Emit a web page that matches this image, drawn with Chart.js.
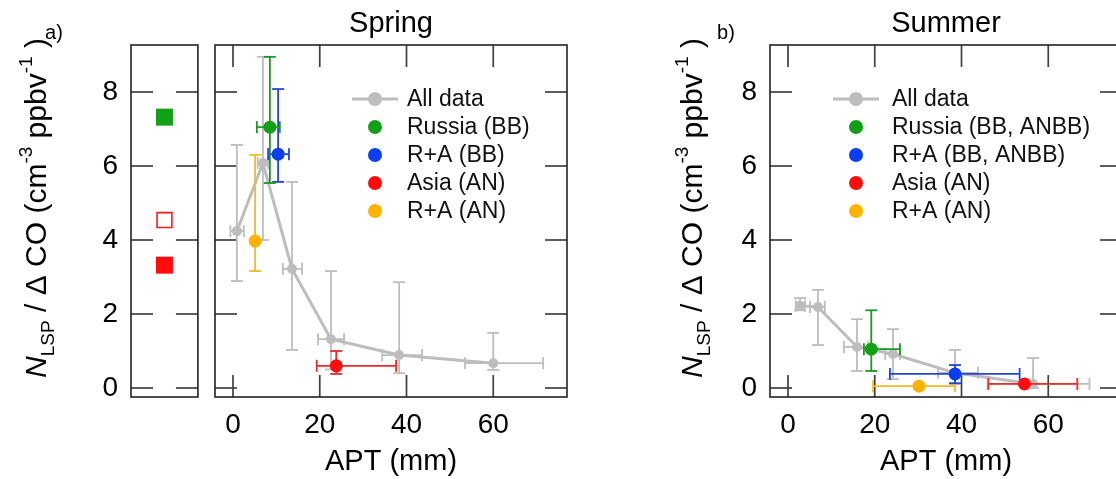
<!DOCTYPE html>
<html>
<head>
<meta charset="utf-8">
<script src="https://cdn.jsdelivr.net/npm/chart.js@4.4.1/dist/chart.umd.min.js"></script>
<style>
  html, body { margin: 0; padding: 0; background: #fff; }
  #wrap { position: relative; width: 1116px; height: 479px; overflow: hidden; }
  canvas { position: absolute; top: 0; }
</style>
</head>
<body>
<div id="wrap">
  <canvas id="side" width="210" height="479" style="left:0px"></canvas>
  <canvas id="spring" width="380" height="479" style="left:200px"></canvas>
  <canvas id="summer" width="520" height="479" style="left:640px"></canvas>
</div>
<script>
const FONT = "'Liberation Sans', Arial, sans-serif";

// axes
const xTicks = [0, 20, 40, 60];
const yTicks = [0, 2, 4, 6, 8];
const xRange = [-4.15, 77];
const yRange = [-0.243, 9.27];

const pointLabelsSpring = ['Russia (BB)', 'R+A (BB)', 'Asia (AN)', 'R+A (AN)'];
const pointLabelsSummer = ['Russia (BB, ANBB)', 'R+A (BB, ANBB)', 'Asia (AN)', 'R+A (AN)'];

// Spring, all data
const springAllApt = [0.9, 6.9, 13.6, 22.6, 38.3, 60.0];
const springAllRatio = [4.24, 6.08, 3.22, 1.32, 0.89, 0.67];
const springAllXLow = [-0.6, 5.7, 11.5, 19.6, 34.4, 53.5];
const springAllXHigh = [2.5, 8.1, 15.9, 25.6, 43.6, 71.5];
const springAllYLow = [2.89, 4.0, 1.03, 0.5, 0.4, 0.49];
const springAllYHigh = [6.57, 8.95, 5.57, 3.16, 2.86, 1.49];

// Spring, source regions (Russia BB, R+A BB, Asia AN, R+A AN)
const springPointApt = [8.5, 10.4, 23.8, 5.1];
const springPointRatio = [7.05, 6.32, 0.6, 3.97];
const springPointXLow = [5.5, 8.1, 19.3, 5.1];
const springPointXHigh = [10.8, 12.9, 37.6, 5.1];
const springPointYLow = [5.54, 5.57, 0.38, 3.16];
const springPointYHigh = [8.95, 8.08, 1.0, 6.3];

// side box squares (green filled, red open, red filled)
const sideRatio = [7.32, 4.54, 3.32];

// Summer, all data
const summerAllApt = [2.8, 6.9, 15.9, 24.2, 38.5, 56.5];
const summerAllRatio = [2.22, 2.19, 1.11, 0.92, 0.41, 0.11];
const summerAllXLow = [1.8, 5.1, 12.9, 22.4, 34.6, 46.0];
const summerAllXHigh = [3.9, 8.5, 18.5, 25.8, 43.8, 69.5];
const summerAllYLow = [2.1, 1.16, 0.46, 0.24, 0.1, 0.0];
const summerAllYHigh = [2.43, 2.65, 1.86, 1.59, 1.03, 0.81];

// Summer, source regions
const summerPointApt = [19.2, 38.5, 54.5, 30.2];
const summerPointRatio = [1.05, 0.38, 0.11, 0.05];
const summerPointXLow = [17.5, 23.5, 46.2, 19.6];
const summerPointXHigh = [25.8, 53.4, 66.7, 38.5];
const summerPointYLow = [0.46, 0.13, 0.11, 0.05];
const summerPointYHigh = [2.1, 0.62, 0.11, 0.05];

const pointColors = ['#12a016', '#0b3df2', '#ff0d0d', '#ffb300'];
const barColors = ['#1a9a22', '#2546d4', '#ee2a2a', '#f7b928'];
const gray = '#bdbdbd';

Chart.defaults.font.family = FONT;
Chart.defaults.color = '#000';

function line(ctx, x1, y1, x2, y2) {
  ctx.beginPath(); ctx.moveTo(x1, y1); ctx.lineTo(x2, y2); ctx.stroke();
}

const framePlugin = {
  id: 'frame',
  beforeDatasetsDraw(chart, args, opts) {
    const { ctx, chartArea: a, scales } = chart;
    const len = 22;
    ctx.save();
    ctx.strokeStyle = '#404040';
    ctx.lineWidth = 1.7;
    (opts.xTicks || []).forEach(v => {
      const px = scales.x.getPixelForValue(v);
      line(ctx, px, a.bottom, px, a.bottom - len);
      line(ctx, px, a.top, px, a.top + len);
    });
    (opts.yTicks || []).forEach(v => {
      const py = scales.y.getPixelForValue(v);
      line(ctx, a.left, py, a.left + len, py);
      line(ctx, a.right, py, a.right - len, py);
    });
    ctx.strokeStyle = '#222';
    ctx.lineWidth = 1.6;
    ctx.strokeRect(a.left, a.top, a.right - a.left, a.bottom - a.top);
    ctx.restore();
  }
};

const errorBarPlugin = {
  id: 'errorBars',
  beforeDatasetDraw(chart, args) {
    const ds = chart.data.datasets[args.index];
    if (!ds.err) return;
    const { ctx, scales: { x, y } } = chart;
    const cap = 6;
    ctx.save();
    ctx.strokeStyle = ds.err.color;
    ctx.lineWidth = 1.8;
    ds.data.forEach((p, i) => {
      const cx = x.getPixelForValue(p.x);
      const cy = y.getPixelForValue(p.y);
      const e = ds.err;
      if (e.yLo[i] !== e.yHi[i]) {
        const y1 = y.getPixelForValue(e.yLo[i]);
        const y2 = y.getPixelForValue(e.yHi[i]);
        line(ctx, cx, y1, cx, y2);
        line(ctx, cx - cap, y1, cx + cap, y1);
        line(ctx, cx - cap, y2, cx + cap, y2);
      }
      if (e.xLo[i] !== e.xHi[i]) {
        const x1 = x.getPixelForValue(e.xLo[i]);
        const x2 = x.getPixelForValue(e.xHi[i]);
        line(ctx, x1, cy, x2, cy);
        line(ctx, x1, cy - cap, x1, cy + cap);
        line(ctx, x2, cy - cap, x2, cy + cap);
      }
    });
    ctx.restore();
  }
};

function drawYLabel(ctx, bx, cy, size) {
  const small = Math.round(size * 0.64);
  const parts = [
    { t: 'N', f: `italic ${size}px ${FONT}`, dy: 0 },
    { t: 'LSP', f: `${small}px ${FONT}`, dy: size * 0.27 },
    { t: ' / \u0394 CO (cm', f: `${size}px ${FONT}`, dy: 0 },
    { t: '-3', f: `${small}px ${FONT}`, dy: -size * 0.46 },
    { t: ' ppbv', f: `${size}px ${FONT}`, dy: 0 },
    { t: '-1', f: `${small}px ${FONT}`, dy: -size * 0.46 },
    { t: ' )', f: `${size}px ${FONT}`, dy: 0 }
  ];
  ctx.save();
  let total = 0;
  parts.forEach(p => { ctx.font = p.f; p.w = ctx.measureText(p.t).width; total += p.w; });
  ctx.translate(bx, cy);
  ctx.rotate(-Math.PI / 2);
  ctx.fillStyle = '#000';
  ctx.textBaseline = 'alphabetic';
  let x = -total / 2;
  parts.forEach(p => { ctx.font = p.f; ctx.fillText(p.t, x, p.dy); x += p.w; });
  ctx.restore();
}

const textPlugin = {
  id: 'texts',
  afterDraw(chart, args, opts) {
    const { ctx, chartArea: a } = chart;
    ctx.save();
    ctx.fillStyle = '#000';
    if (opts.title) {
      ctx.font = `29px ${FONT}`;
      ctx.textAlign = 'center';
      ctx.textBaseline = 'alphabetic';
      ctx.fillText(opts.title, (a.left + a.right) / 2, 32);
    }
    if (opts.letter) {
      ctx.font = `20px ${FONT}`;
      ctx.textAlign = 'center';
      ctx.textBaseline = 'middle';
      ctx.fillText(opts.letter, opts.letterX, 33);
    }
    ctx.restore();
    if (opts.yLabelX) drawYLabel(ctx, opts.yLabelX, 208, 30);
  }
};

const legendPlugin = {
  id: 'customLegend',
  afterDraw(chart, args, opts) {
    if (!opts.order) return;
    const { ctx } = chart;
    ctx.save();
    ctx.font = `23px ${FONT}`;
    ctx.textBaseline = 'middle';
    ctx.textAlign = 'left';
    opts.order.forEach((di, k) => {
      const ds = chart.data.datasets[di];
      const y = opts.y + k * 28;
      const mx = opts.markerX;
      if (ds.type === 'line') {
        ctx.strokeStyle = ds.borderColor;
        ctx.lineWidth = 3;
        line(ctx, mx - 23, y, mx + 23, y);
      }
      ctx.fillStyle = ds.pointBackgroundColor;
      ctx.beginPath(); ctx.arc(mx, y, 7, 0, Math.PI * 2); ctx.fill();
      ctx.fillStyle = '#111';
      ctx.fillText(ds.label, opts.textX, y + 1);
    });
    ctx.restore();
  }
};

function fixedX(height) {
  return s => { s.height = height; };
}

function mainDatasets(allApt, allRatio, allErr, pApt, pRatio, pErr, labels) {
  const sets = pApt.map((v, i) => ({
    type: 'scatter',
    label: labels[i],
    data: [{ x: v, y: pRatio[i] }],
    pointRadius: 6.5,
    pointBackgroundColor: pointColors[i],
    pointBorderWidth: 0,
    order: 1,
    err: {
      color: barColors[i],
      xLo: [pErr[0][i]], xHi: [pErr[1][i]], yLo: [pErr[2][i]], yHi: [pErr[3][i]]
    }
  }));
  sets.push({
    type: 'line',
    label: 'All data',
    data: allApt.map((v, i) => ({ x: v, y: allRatio[i] })),
    borderColor: gray,
    borderWidth: 3,
    pointRadius: 5,
    pointBackgroundColor: gray,
    pointBorderWidth: 0,
    tension: 0,
    order: 2,
    err: { color: gray, xLo: allErr[0], xHi: allErr[1], yLo: allErr[2], yHi: allErr[3] }
  });
  return sets;
}

function xScale() {
  return {
    type: 'linear',
    min: xRange[0], max: xRange[1],
    afterBuildTicks: s => { s.ticks = xTicks.map(v => ({ value: v })); },
    afterFit: fixedX(82),
    grid: { display: false, drawTicks: false },
    border: { display: false },
    ticks: { autoSkip: false, maxRotation: 0, padding: 11, font: { size: 28 }, color: '#000' },
    title: { display: true, text: 'APT (mm)', font: { size: 29 }, color: '#000', padding: { top: 0, bottom: 0 } }
  };
}

function yScale(show) {
  return {
    type: 'linear',
    display: show,
    min: yRange[0], max: yRange[1],
    afterBuildTicks: s => { s.ticks = yTicks.map(v => ({ value: v })); },
    grid: { display: false, drawTicks: false },
    border: { display: false },
    ticks: { autoSkip: false, padding: 13, font: { size: 28 }, color: '#000' }
  };
}

const commonPlugins = [framePlugin, errorBarPlugin, textPlugin, legendPlugin];
const basePluginOpts = { legend: { display: false }, tooltip: { enabled: false } };

// side box of panel a
new Chart(document.getElementById('side'), {
  type: 'scatter',
  data: {
    datasets: [
      { data: [{ x: 0.5, y: sideRatio[0] }], pointStyle: 'rect', pointRadius: 12,
        pointBackgroundColor: '#12a016', pointBorderWidth: 0 },
      { data: [{ x: 0.5, y: sideRatio[1] }], pointStyle: 'rect', pointRadius: 10.5,
        pointBackgroundColor: '#ffffff', pointBorderColor: '#ff1a1a', pointBorderWidth: 1.6 },
      { data: [{ x: 0.5, y: sideRatio[2] }], pointStyle: 'rect', pointRadius: 12,
        pointBackgroundColor: '#ff0d0d', pointBorderWidth: 0 }
    ]
  },
  options: {
    responsive: false,
    animation: false,
    layout: { padding: { left: 0, top: 45, right: 9, bottom: 82 } },
    scales: {
      x: { type: 'linear', display: false, min: 0, max: 1 },
      y: Object.assign(yScale(true), { afterFit: s => { s.width = 131; } })
    },
    plugins: Object.assign({}, basePluginOpts, {
      frame: { yTicks: yTicks },
      texts: { letter: 'a)', letterX: 54, yLabelX: 46 }
    })
  },
  plugins: commonPlugins
});

// panel a, spring
new Chart(document.getElementById('spring'), {
  type: 'scatter',
  data: {
    datasets: mainDatasets(
      springAllApt, springAllRatio,
      [springAllXLow, springAllXHigh, springAllYLow, springAllYHigh],
      springPointApt, springPointRatio,
      [springPointXLow, springPointXHigh, springPointYLow, springPointYHigh],
      pointLabelsSpring)
  },
  options: {
    responsive: false,
    animation: false,
    layout: { padding: { left: 15, top: 45, right: 13, bottom: 0 } },
    scales: { x: xScale(), y: yScale(false) },
    plugins: Object.assign({}, basePluginOpts, {
      frame: { xTicks: xTicks, yTicks: yTicks },
      texts: { title: 'Spring' },
      customLegend: { order: [4, 0, 1, 2, 3], markerX: 175, textX: 207, y: 99 }
    })
  },
  plugins: commonPlugins
});

// panel b, summer
new Chart(document.getElementById('summer'), {
  type: 'scatter',
  data: {
    datasets: mainDatasets(
      summerAllApt, summerAllRatio,
      [summerAllXLow, summerAllXHigh, summerAllYLow, summerAllYHigh],
      summerPointApt, summerPointRatio,
      [summerPointXLow, summerPointXHigh, summerPointYLow, summerPointYHigh],
      pointLabelsSummer)
  },
  options: {
    responsive: false,
    animation: false,
    layout: { padding: { left: 0, top: 45, right: 38, bottom: 0 } },
    scales: {
      x: xScale(),
      y: Object.assign(yScale(true), { afterFit: s => { s.width = 130; } })
    },
    plugins: Object.assign({}, basePluginOpts, {
      frame: { xTicks: xTicks, yTicks: yTicks },
      texts: { title: 'Summer', letter: 'b)', letterX: 86, yLabelX: 62 },
      customLegend: { order: [4, 0, 1, 2, 3], markerX: 216, textX: 252, y: 99 }
    })
  },
  plugins: commonPlugins
});
</script>
</body>
</html>
